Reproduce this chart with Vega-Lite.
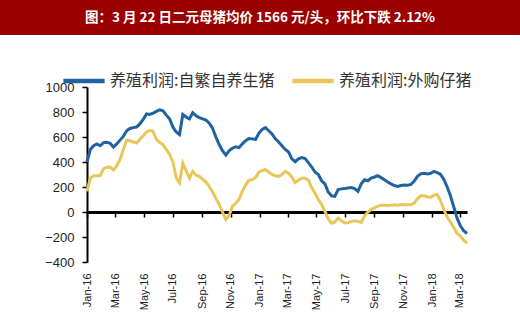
{
  "$schema": "https://vega.github.io/schema/vega-lite/v6.json",
  "padding": 0,
  "background": "white",
  "bounds": "flush",
  "spacing": 52,
  "config": {
    "view": {"stroke": null},
    "font": "Liberation Sans"
  },
  "vconcat": [
    {
      "width": 520,
      "height": 35,
      "view": {"fill": "#9B0000", "stroke": null},
      "data": {"values": [{"t": "图：3 月 22 日二元母猪均价 1566 元/头，环比下跌 2.12%"}]},
      "mark": {"type": "text", "align": "center", "baseline": "middle", "color": "white", "fontWeight": "bold", "fontSize": 13.5, "font": "Noto Sans CJK SC"},
      "encoding": {"text": {"field": "t"}}
    },
    {
      "width": 520,
      "height": 175,
      "data": {"values": [
        {"d":"2016-01-01","v":400},{"d":"2016-01-08","v":500},{"d":"2016-01-15","v":530},{"d":"2016-01-22","v":545},{"d":"2016-01-29","v":530},
        {"d":"2016-02-05","v":555},{"d":"2016-02-12","v":558},{"d":"2016-02-19","v":550},{"d":"2016-02-26","v":520},{"d":"2016-03-04","v":545},
        {"d":"2016-03-11","v":575},{"d":"2016-03-18","v":605},{"d":"2016-03-25","v":650},{"d":"2016-04-01","v":668},{"d":"2016-04-08","v":675},
        {"d":"2016-04-15","v":680},{"d":"2016-04-22","v":705},{"d":"2016-04-29","v":740},{"d":"2016-05-06","v":785},{"d":"2016-05-13","v":780},
        {"d":"2016-05-20","v":790},{"d":"2016-05-27","v":805},{"d":"2016-06-03","v":818},{"d":"2016-06-10","v":810},{"d":"2016-06-17","v":775},
        {"d":"2016-06-24","v":745},{"d":"2016-07-01","v":680},{"d":"2016-07-08","v":640},{"d":"2016-07-15","v":620},{"d":"2016-07-22","v":780},
        {"d":"2016-07-29","v":760},{"d":"2016-08-05","v":745},{"d":"2016-08-12","v":795},{"d":"2016-08-19","v":770},{"d":"2016-08-26","v":755},
        {"d":"2016-09-02","v":745},{"d":"2016-09-09","v":735},{"d":"2016-09-16","v":710},{"d":"2016-09-23","v":670},{"d":"2016-09-30","v":600},
        {"d":"2016-10-07","v":540},{"d":"2016-10-14","v":490},{"d":"2016-10-21","v":455},{"d":"2016-10-28","v":490},{"d":"2016-11-04","v":510},
        {"d":"2016-11-11","v":522},{"d":"2016-11-18","v":515},{"d":"2016-11-25","v":545},{"d":"2016-12-02","v":570},{"d":"2016-12-09","v":588},
        {"d":"2016-12-16","v":585},{"d":"2016-12-23","v":580},{"d":"2016-12-30","v":630},{"d":"2017-01-06","v":660},{"d":"2017-01-13","v":675},
        {"d":"2017-01-20","v":650},{"d":"2017-01-27","v":625},{"d":"2017-02-03","v":585},{"d":"2017-02-10","v":560},{"d":"2017-02-17","v":530},
        {"d":"2017-02-24","v":500},{"d":"2017-03-03","v":480},{"d":"2017-03-10","v":425},{"d":"2017-03-17","v":402},{"d":"2017-03-24","v":425},
        {"d":"2017-03-31","v":435},{"d":"2017-04-07","v":428},{"d":"2017-04-14","v":395},{"d":"2017-04-21","v":360},{"d":"2017-04-28","v":320},
        {"d":"2017-05-05","v":300},{"d":"2017-05-12","v":250},{"d":"2017-05-19","v":225},{"d":"2017-05-26","v":160},{"d":"2017-06-02","v":130},
        {"d":"2017-06-09","v":125},{"d":"2017-06-16","v":180},{"d":"2017-06-23","v":185},{"d":"2017-06-30","v":188},{"d":"2017-07-07","v":192},
        {"d":"2017-07-14","v":195},{"d":"2017-07-21","v":188},{"d":"2017-07-28","v":165},{"d":"2017-08-04","v":225},{"d":"2017-08-11","v":258},
        {"d":"2017-08-18","v":250},{"d":"2017-08-25","v":272},{"d":"2017-09-01","v":280},{"d":"2017-09-08","v":290},{"d":"2017-09-15","v":275},
        {"d":"2017-09-22","v":258},{"d":"2017-09-29","v":240},{"d":"2017-10-06","v":225},{"d":"2017-10-13","v":212},{"d":"2017-10-20","v":205},
        {"d":"2017-10-27","v":212},{"d":"2017-11-03","v":215},{"d":"2017-11-10","v":214},{"d":"2017-11-17","v":220},{"d":"2017-11-24","v":245},
        {"d":"2017-12-01","v":285},{"d":"2017-12-08","v":305},{"d":"2017-12-15","v":310},{"d":"2017-12-22","v":305},{"d":"2017-12-29","v":310},
        {"d":"2018-01-05","v":325},{"d":"2018-01-12","v":315},{"d":"2018-01-19","v":300},{"d":"2018-01-26","v":260},{"d":"2018-02-02","v":200},
        {"d":"2018-02-09","v":130},{"d":"2018-02-16","v":40},{"d":"2018-02-23","v":-50},{"d":"2018-03-02","v":-110},{"d":"2018-03-09","v":-150},
        {"d":"2018-03-16","v":-172}
      ]},
      "transform": [{"calculate": "'养殖利润:自繁自养生猪'", "as": "s"}],
      "layer": [
        {
          "mark": {"type": "line", "strokeWidth": 3},
          "encoding": {
            "x": {"field": "d", "type": "temporal"},
            "y": {"field": "v", "type": "quantitative"},
            "color": {"field": "s", "type": "nominal"}
          }
        },
        {
          "data": {"values": [
            {"d":"2016-01-01","v":165},{"d":"2016-01-08","v":270},{"d":"2016-01-15","v":290},{"d":"2016-01-22","v":290},{"d":"2016-01-29","v":290},
            {"d":"2016-02-05","v":345},{"d":"2016-02-12","v":358},{"d":"2016-02-19","v":360},{"d":"2016-02-26","v":335},{"d":"2016-03-04","v":370},
            {"d":"2016-03-11","v":420},{"d":"2016-03-18","v":500},{"d":"2016-03-25","v":575},{"d":"2016-04-01","v":570},{"d":"2016-04-08","v":560},
            {"d":"2016-04-15","v":552},{"d":"2016-04-22","v":580},{"d":"2016-04-29","v":610},{"d":"2016-05-06","v":640},{"d":"2016-05-13","v":652},
            {"d":"2016-05-20","v":645},{"d":"2016-05-27","v":580},{"d":"2016-06-03","v":555},{"d":"2016-06-10","v":538},{"d":"2016-06-17","v":500},
            {"d":"2016-06-24","v":460},{"d":"2016-07-01","v":400},{"d":"2016-07-08","v":275},{"d":"2016-07-15","v":232},{"d":"2016-07-22","v":390},
            {"d":"2016-07-29","v":330},{"d":"2016-08-05","v":270},{"d":"2016-08-12","v":325},{"d":"2016-08-19","v":295},{"d":"2016-08-26","v":285},
            {"d":"2016-09-02","v":262},{"d":"2016-09-09","v":240},{"d":"2016-09-16","v":205},{"d":"2016-09-23","v":160},{"d":"2016-09-30","v":110},
            {"d":"2016-10-07","v":60},{"d":"2016-10-14","v":0},{"d":"2016-10-21","v":-60},{"d":"2016-10-28","v":-30},{"d":"2016-11-04","v":45},
            {"d":"2016-11-11","v":70},{"d":"2016-11-18","v":100},{"d":"2016-11-25","v":165},{"d":"2016-12-02","v":215},{"d":"2016-12-09","v":255},
            {"d":"2016-12-16","v":258},{"d":"2016-12-23","v":275},{"d":"2016-12-30","v":318},{"d":"2017-01-06","v":330},{"d":"2017-01-13","v":340},
            {"d":"2017-01-20","v":320},{"d":"2017-01-27","v":300},{"d":"2017-02-03","v":290},{"d":"2017-02-10","v":285},{"d":"2017-02-17","v":300},
            {"d":"2017-02-24","v":325},{"d":"2017-03-03","v":310},{"d":"2017-03-10","v":280},{"d":"2017-03-17","v":235},{"d":"2017-03-24","v":255},
            {"d":"2017-03-31","v":270},{"d":"2017-04-07","v":270},{"d":"2017-04-14","v":255},{"d":"2017-04-21","v":195},{"d":"2017-04-28","v":150},
            {"d":"2017-05-05","v":100},{"d":"2017-05-12","v":60},{"d":"2017-05-19","v":5},{"d":"2017-05-26","v":-55},{"d":"2017-06-02","v":-90},
            {"d":"2017-06-09","v":-80},{"d":"2017-06-16","v":-48},{"d":"2017-06-23","v":-70},{"d":"2017-06-30","v":-88},{"d":"2017-07-07","v":-85},
            {"d":"2017-07-14","v":-75},{"d":"2017-07-21","v":-70},{"d":"2017-07-28","v":-75},{"d":"2017-08-04","v":-85},{"d":"2017-08-11","v":-30},
            {"d":"2017-08-18","v":0},{"d":"2017-08-25","v":20},{"d":"2017-09-01","v":35},{"d":"2017-09-08","v":45},{"d":"2017-09-15","v":55},
            {"d":"2017-09-22","v":55},{"d":"2017-09-29","v":52},{"d":"2017-10-06","v":55},{"d":"2017-10-13","v":58},{"d":"2017-10-20","v":55},
            {"d":"2017-10-27","v":60},{"d":"2017-11-03","v":58},{"d":"2017-11-10","v":58},{"d":"2017-11-17","v":60},{"d":"2017-11-24","v":70},
            {"d":"2017-12-01","v":105},{"d":"2017-12-08","v":130},{"d":"2017-12-15","v":130},{"d":"2017-12-22","v":120},{"d":"2017-12-29","v":118},
            {"d":"2018-01-05","v":135},{"d":"2018-01-12","v":140},{"d":"2018-01-19","v":90},{"d":"2018-01-26","v":20},{"d":"2018-02-02","v":-40},
            {"d":"2018-02-09","v":-80},{"d":"2018-02-16","v":-125},{"d":"2018-02-23","v":-170},{"d":"2018-03-02","v":-195},{"d":"2018-03-09","v":-225},
            {"d":"2018-03-16","v":-250}
          ]},
          "transform": [{"calculate": "'养殖利润:外购仔猪'", "as": "s"}],
          "mark": {"type": "line", "strokeWidth": 3},
          "encoding": {
            "x": {"field": "d", "type": "temporal"},
            "y": {"field": "v", "type": "quantitative"},
            "color": {"field": "s", "type": "nominal"}
          }
        },
        {
          "data": {"values": [{"u": ["元", "/", "头"], "d": "2016-02-16", "v": 850}]},
          "mark": {"type": "text", "fontSize": 11, "lineHeight": 11, "font": "Noto Sans CJK SC", "color": "#333", "align": "center", "baseline": "middle"},
          "encoding": {
            "x": {"field": "d", "type": "temporal"},
            "y": {"field": "v", "type": "quantitative"},
            "text": {"field": "u"}
          }
        }
      ],
      "encoding": {
        "x": {"field": "d", "type": "temporal",
          "scale": {"type": "utc", "range": [87, 467], "domain": [{"year": 2016, "month": 1, "date": 1, "utc": true}, {"year": 2018, "month": 3, "date": 16, "utc": true}]},
          "axis": {"title": null, "format": "%b-%y", "tickCount": {"interval": "month", "step": 2}, "labelAngle": 270, "labelFontSize": 11, "labelColor": "#222", "domainColor": "black", "domainWidth": 3, "tickColor": "black", "tickWidth": 1.5, "tickSize": 5, "offset": -50, "labelPadding": 56, "grid": false, "labelFlush": false, "labelOverlap": false}
        },
        "y": {"field": "v", "type": "quantitative",
          "scale": {"domain": [-400, 1000], "nice": false},
          "axis": {"title": null, "format": "d", "offset": -87, "values": [-400, -200, 0, 200, 400, 600, 800, 1000], "labelFontSize": 13, "labelColor": "#222", "domainColor": "black", "domainWidth": 2, "tickColor": "black", "tickWidth": 1.5, "tickSize": 5, "labelPadding": 8, "grid": false}
        },
        "color": {"field": "s", "type": "nominal",
          "scale": {"domain": ["养殖利润:自繁自养生猪", "养殖利润:外购仔猪"], "range": ["#1F64A0", "#E8C65A"]},
          "legend": {"title": null, "orient": "none", "legendX": 61, "legendY": 58, "direction": "horizontal", "symbolType": "stroke", "symbolSize": 1700, "symbolStrokeWidth": 4.5, "labelFontSize": 16, "labelFont": "Noto Sans CJK SC", "labelColor": "#333", "columnPadding": 8, "labelOffset": 3, "labelLimit": 400}
        }
      }
    }
  ]
}
